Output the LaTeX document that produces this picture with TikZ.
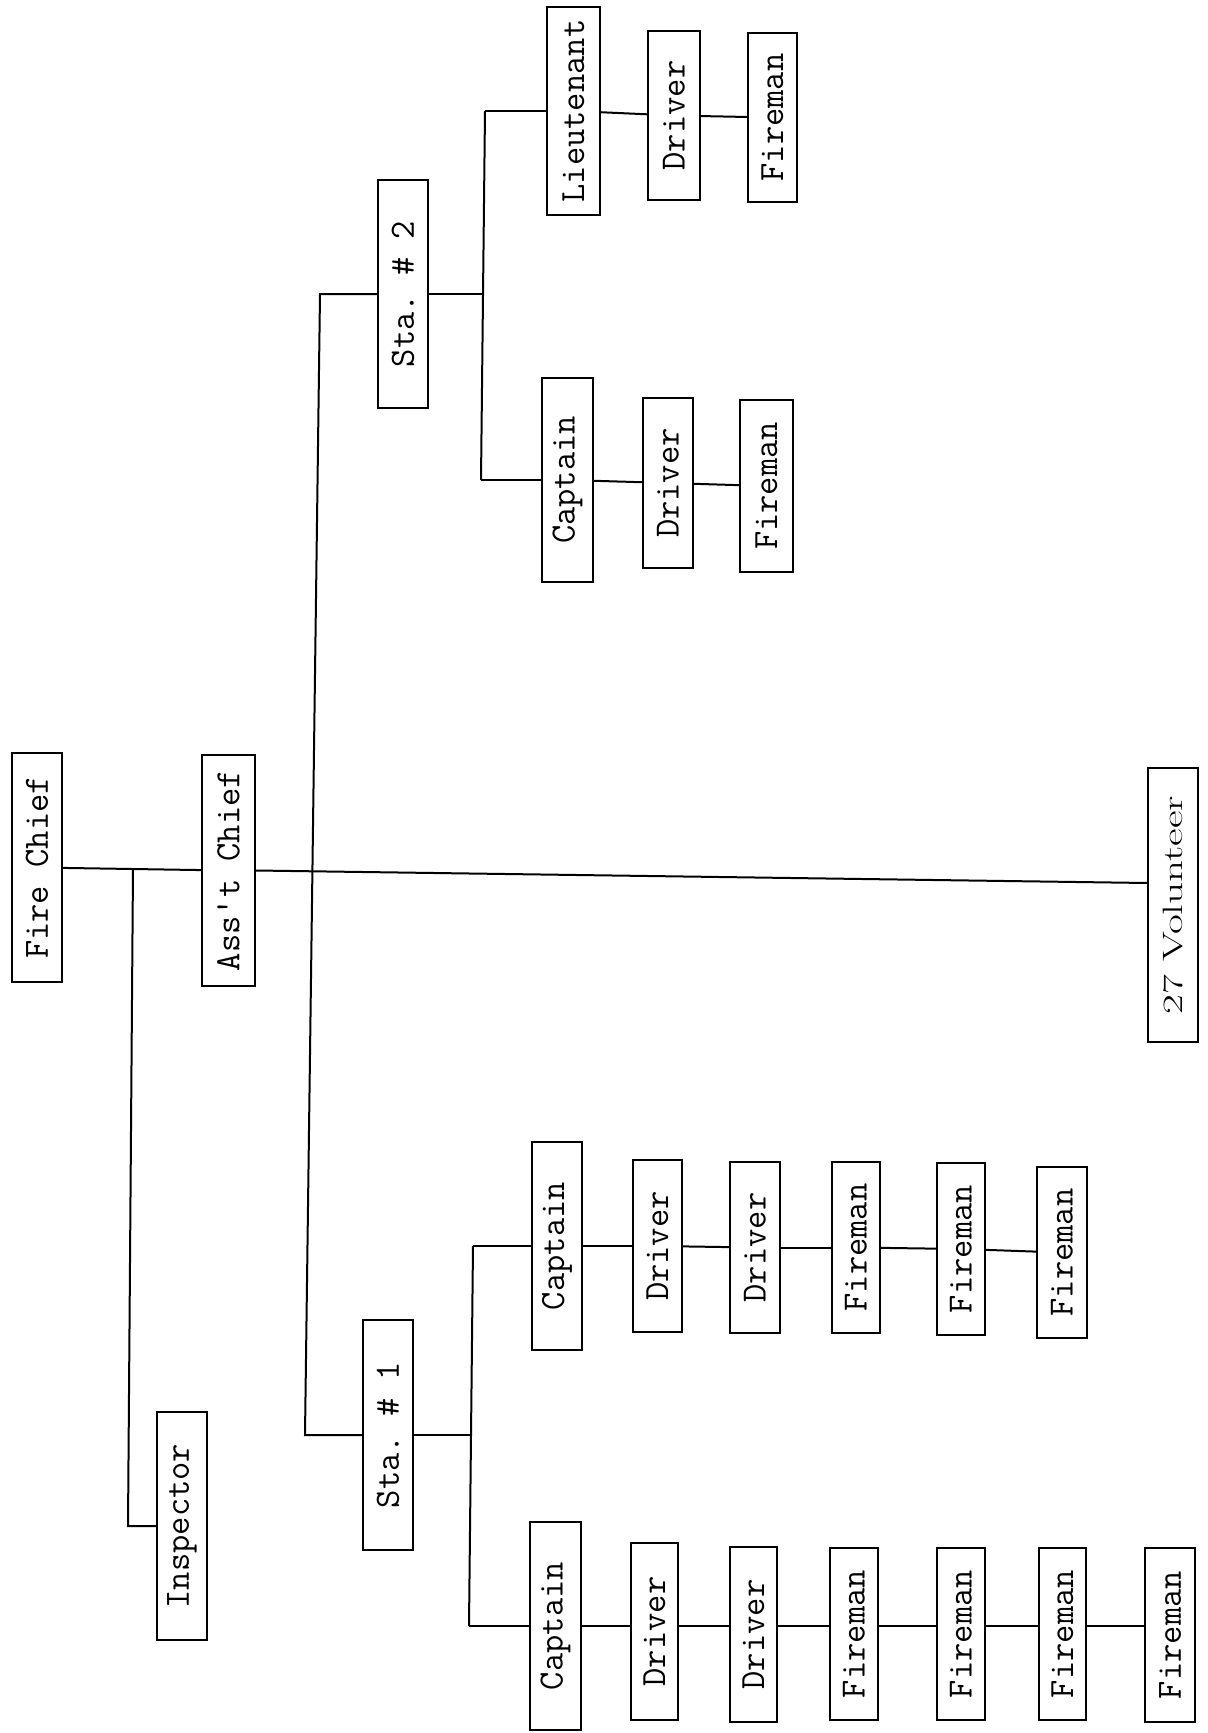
\documentclass[tikz,border=0pt]{standalone}
\usepackage{fontspec}
\usepackage{graphicx}
\frenchspacing
\begin{document}
\begin{tikzpicture}[x=1pt,y=-1pt,
  box/.style={draw, line width=2.2pt, inner sep=0pt, minimum width=50pt,
    font=\fontsize{35.5}{40}\selectfont\ttfamily},
  ln/.style={line width=2pt}]
\fill[white] (0,0) rectangle (1208,1733);
\useasboundingbox (0,0) rectangle (1208,1733);

% top levels
\node[box, minimum height=229pt] (fc) at (37,867.5) {\rotatebox{90}{Fire Chief}};
\node[box, minimum width=53pt, minimum height=231pt] (ac) at (228.5,870.5) {\rotatebox{90}{Ass't Chief}};
\node[box, minimum height=228pt] (insp) at (182,1526) {\rotatebox{90}{Inspector}};
\node[box, minimum height=274pt, font=\fontsize{28}{30}\selectfont\rmfamily] (vol) at (1173,905) {\rotatebox{90}{\scalebox{1.54}[1]{27 Volunteer}}};
\node[box, minimum height=228pt] (s2) at (403,294) {\rotatebox{90}{Sta. \# 2}};
\node[box, minimum height=230pt] (s1) at (388,1435) {\rotatebox{90}{Sta. \# 1}};

% station 2
\node[box, minimum width=51pt, minimum height=204pt] (s2c) at (567.5,480) {\rotatebox{90}{Captain}};
\node[box, minimum height=170pt] (s2cd) at (668,483) {\rotatebox{90}{Driver}};
\node[box, minimum width=53pt, minimum height=172pt] (s2cf) at (766.5,486) {\rotatebox{90}{Fireman}};
\node[box, minimum width=53pt, minimum height=208pt] (s2l) at (573.5,111) {\rotatebox{90}{Lieutenant}};
\node[box, minimum width=52pt, minimum height=169pt] (s2ld) at (674,115.5) {\rotatebox{90}{Driver}};
\node[box, minimum width=49pt, minimum height=169pt] (s2lf) at (772.5,117.5) {\rotatebox{90}{Fireman}};

% station 1 upper row
\node[box, minimum height=208pt] (a0) at (557,1246) {\rotatebox{90}{Captain}};
\node[box, minimum width=49pt, minimum height=172pt] (a1) at (657.5,1246) {\rotatebox{90}{Driver}};
\node[box, minimum height=171pt] (a2) at (755,1247.5) {\rotatebox{90}{Driver}};
\node[box, minimum width=48pt, minimum height=171pt] (a3) at (856,1247.5) {\rotatebox{90}{Fireman}};
\node[box, minimum width=48pt, minimum height=172pt] (a4) at (961,1249) {\rotatebox{90}{Fireman}};
\node[box, minimum height=171pt] (a5) at (1062,1252.5) {\rotatebox{90}{Fireman}};

% station 1 lower row
\node[box, minimum width=51pt, minimum height=208pt] (b0) at (555.5,1626) {\rotatebox{90}{Captain}};
\node[box, minimum width=47pt, minimum height=177pt] (b1) at (654.5,1631.5) {\rotatebox{90}{Driver}};
\node[box, minimum width=47pt, minimum height=175pt] (b2) at (753.5,1634.5) {\rotatebox{90}{Driver}};
\node[box, minimum width=48pt, minimum height=172pt] (b3) at (854,1634) {\rotatebox{90}{Fireman}};
\node[box, minimum width=48pt, minimum height=172pt] (b4) at (961,1634) {\rotatebox{90}{Fireman}};
\node[box, minimum width=47pt, minimum height=172pt] (b5) at (1062.5,1634) {\rotatebox{90}{Fireman}};
\node[box, minimum height=174pt] (b6) at (1170,1635) {\rotatebox{90}{Fireman}};

% junction coordinates
\coordinate (ib) at (133,868);
\coordinate (ic) at (128,1526);
\coordinate (vj) at (1148,883);
\coordinate (t2) at (320,294);
\coordinate (t1) at (305,1435);
\coordinate (b2m) at (483,294);
\coordinate (b2t) at (485,111);
\coordinate (b2b) at (481,480);
\coordinate (b1m) at (471,1435);
\coordinate (b1t) at (473,1246);
\coordinate (b1b) at (469,1626);

% connectors
\draw[ln] (fc) -- (ac);
\draw[ln] (ib) -- (ic) -- (insp.west);
\draw[ln] (ac.east) -- (vj);
\draw[ln] (s2.west) -- (t2) -- (t1) -- (s1.west);
\draw[ln] (s2.east) -- (b2m);
\draw[ln] (b2t) -- (b2b);
\draw[ln] (b2t) -- (s2l.west);
\draw[ln] (b2b) -- (s2c.west);
\draw[ln] (s2c) -- (s2cd);
\draw[ln] (s2cd) -- (s2cf);
\draw[ln] (s2l) -- (s2ld);
\draw[ln] (s2ld) -- (s2lf);
\draw[ln] (s1.east) -- (b1m);
\draw[ln] (b1t) -- (b1b);
\draw[ln] (b1t) -- (a0.west);
\draw[ln] (b1b) -- (b0.west);
\draw[ln] (a0) -- (a1);
\draw[ln] (a1) -- (a2);
\draw[ln] (a2) -- (a3);
\draw[ln] (a3) -- (a4);
\draw[ln] (a4) -- (a5);
\draw[ln] (b0.east) -- (b0.east -| b1.west);
\draw[ln] (b1.east |- b0.east) -- (b0.east -| b2.west);
\draw[ln] (b2.east |- b0.east) -- (b0.east -| b3.west);
\draw[ln] (b3.east |- b0.east) -- (b0.east -| b4.west);
\draw[ln] (b4.east |- b0.east) -- (b0.east -| b5.west);
\draw[ln] (b5.east |- b0.east) -- (b0.east -| b6.west);
\end{tikzpicture}
\end{document}
